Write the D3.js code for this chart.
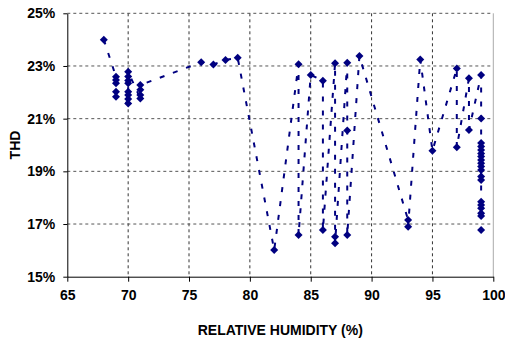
<!DOCTYPE html>
<html lang="en">
  <head>
    <meta charset="UTF-8" />
    <title>THD vs humidity</title>
    <script src="https://cdn.jsdelivr.net/npm/d3@7"></script>
    <style>
      body { margin: 0; background: #fff; }
      text { font-family: 'Liberation Sans', Arial, sans-serif; font-weight: bold; }
    </style>
  </head>
  <body>
    <svg width="505" height="339"></svg>
  </body>

  <script>
    // readings in the order they are joined by the dashed line
    var humidity = [
      68, 69, 69, 69, 69, 69, 70, 70, 70, 70, 70, 70, 70, 70, 71, 71, 71, 71,
      76, 77, 78, 79, 82, 84, 84, 85, 86, 86, 87, 87, 87, 88, 88, 88, 89,
      93, 93, 94, 95, 97, 97, 98, 98,
      99, 99, 99, 99, 99, 99, 99, 99, 99, 99, 99, 99, 99, 99, 99, 99, 99, 99, 99
    ];
    var thd = [
      24.0, 22.59, 22.47, 22.34, 22.02, 21.83, 21.58, 21.75, 21.9, 22.02, 22.34, 22.45, 22.6, 22.78,
      21.77, 21.9, 22.1, 22.28,
      23.14, 23.06, 23.23, 23.31, 16.01, 23.07, 16.58, 22.66, 22.44, 16.77, 23.1, 16.52, 16.27,
      23.12, 20.55, 16.58, 23.38,
      17.15, 16.9, 23.25, 19.78, 22.9, 19.91, 22.53, 20.57,
      22.66, 21.01, 20.08, 19.94, 19.81, 19.68, 19.56, 19.43, 19.31, 19.18, 19.05, 18.8, 18.67,
      17.85, 17.72, 17.6, 17.41, 17.3, 16.77
    ];
    var xTicks = [65, 70, 75, 80, 85, 90, 95, 100];
    var yTicks = [15, 17, 19, 21, 23, 25];

    var navy = '#000080';
    var svg = d3.select('svg');
    var plotL = 67.3, plotR = 493.3, plotT = 13.3, plotB = 276.7;

    var x = d3.scaleLinear().domain([65, 100]).range([plotL, plotR]);
    var y = d3.scaleLinear().domain([15, 25]).range([plotB, plotT]);

    // grid
    var grid = svg.append('g');
    grid.selectAll('.gx').data(xTicks.slice(1, -1)).enter().append('line')
      .attr('x1', function (d) { return x(d); })
      .attr('x2', function (d) { return x(d); })
      .attr('y1', plotT).attr('y2', plotB)
      .attr('stroke', '#333').attr('stroke-dasharray', '3,3');
    grid.selectAll('.gy').data(yTicks.slice(1)).enter().append('line')
      .attr('x1', plotL).attr('x2', plotR)
      .attr('y1', function (d) { return y(d); })
      .attr('y2', function (d) { return y(d); })
      .attr('stroke', '#555').attr('stroke-dasharray', '3,3');
    // right border
    svg.append('line')
      .attr('x1', plotR).attr('x2', plotR).attr('y1', plotT).attr('y2', plotB)
      .attr('stroke', '#aaa');

    // axes
    var axisX = d3.axisBottom(x).tickValues(xTicks).tickSizeInner(5).tickSizeOuter(0).tickPadding(8);
    var axisY = d3.axisLeft(y).tickValues(yTicks).tickSizeInner(4).tickSizeOuter(0).tickPadding(8)
      .tickFormat(function (d) { return d + '%'; });

    var gx = svg.append('g').attr('transform', 'translate(0,' + plotB + ')').call(axisX);
    var gy = svg.append('g').attr('transform', 'translate(' + plotL + ',0)').call(axisY);
    [gx, gy].forEach(function (g) {
      g.selectAll('path, line').attr('stroke', '#000');
      g.selectAll('text').attr('fill', '#000').style('font-size', '14px')
        .style('font-family', "'Liberation Sans', Arial, sans-serif").style('font-weight', 'bold');
    });

    // dashed connecting line
    var pts = humidity.map(function (h, i) { return [h, thd[i]]; });
    var line = d3.line()
      .x(function (d) { return x(d[0]); })
      .y(function (d) { return y(d[1]); });
    svg.append('path')
      .datum(pts)
      .attr('d', line)
      .attr('fill', 'none')
      .attr('stroke', navy)
      .attr('stroke-width', 2)
      .attr('stroke-dasharray', '5,9');

    // diamond markers
    svg.selectAll('.pt').data(pts).enter().append('path')
      .attr('d', 'M0,-4L4,0L0,4L-4,0Z')
      .attr('transform', function (d) { return 'translate(' + x(d[0]) + ',' + y(d[1]) + ')'; })
      .attr('fill', navy);

    // titles
    svg.append('text')
      .attr('x', (plotL + plotR) / 2).attr('y', 335)
      .attr('text-anchor', 'middle').style('font-size', '14px')
      .text('RELATIVE HUMIDITY (%)');
    svg.append('text')
      .attr('transform', 'translate(20,' + (plotT + plotB) / 2 + ') rotate(-90)')
      .attr('text-anchor', 'middle').style('font-size', '14px')
      .text('THD');
  </script>
</html>
